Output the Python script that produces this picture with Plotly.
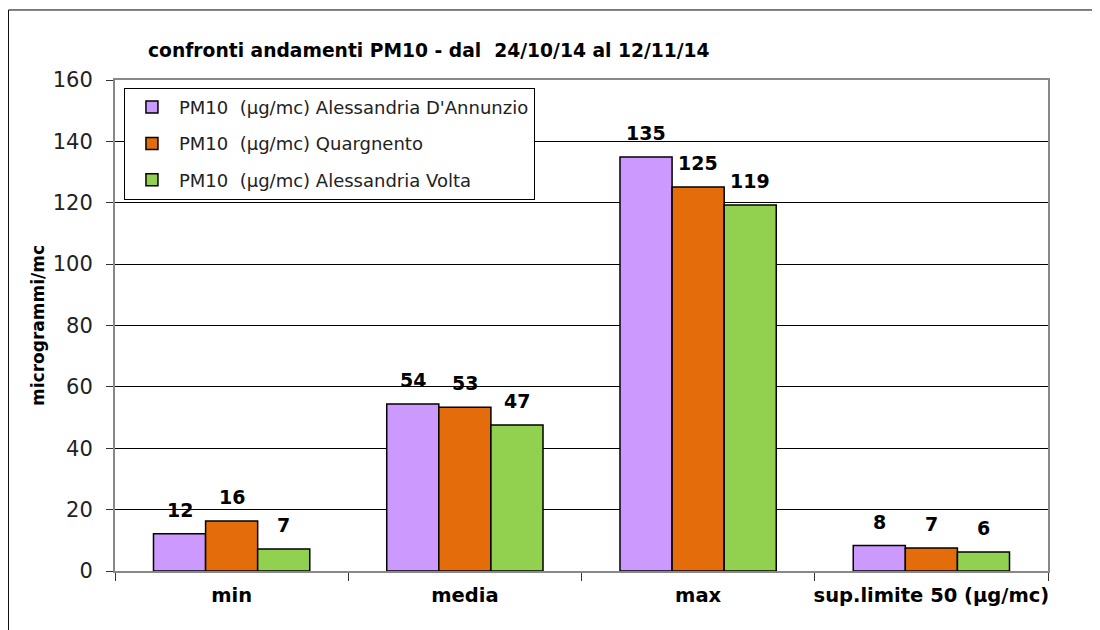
import plotly.graph_objects as go

categories = ["min", "media", "max", "sup.limite 50 (µg/mc)"]

dannunzio = [12.1, 54.4, 134.9, 8.3]
quargnento = [16.3, 53.4, 125.1, 7.5]
volta = [7.2, 47.6, 119.3, 6.2]

dannunzio_labels = ["12", "54", "135", "8"]
quargnento_labels = ["16", "53", "125", "7"]
volta_labels = ["7", "47", "119", "6"]

series_names = [
    "PM10  (µg/mc) Alessandria D'Annunzio",
    "PM10  (µg/mc) Quargnento",
    "PM10  (µg/mc) Alessandria Volta",
]
colors = ["#CC99FF", "#E46C0A", "#92D050"]

FONT = "DejaVu Sans, Arial, sans-serif"

fig = go.Figure()
all_vals = [dannunzio, quargnento, volta]
all_labels = [dannunzio_labels, quargnento_labels, volta_labels]
for i, vals in enumerate(all_vals):
    fig.add_trace(go.Bar(
        x=categories, y=vals, name=series_names[i],
        marker=dict(color=colors[i], line=dict(color="black", width=1.5)),
        legendgroup=f"g{i}",
    ))

# value labels above each bar (bar width ~52px in a group of three)
for i, (vals, labels) in enumerate(zip(all_vals, all_labels)):
    for cat, v, lab in zip(categories, vals, labels):
        fig.add_annotation(
            x=cat, y=v, text=f"<b>{lab}</b>", showarrow=False,
            xshift=(i - 1) * 52, yshift=11, yanchor="bottom",
            font=dict(family=FONT, size=19, color="black"),
        )

fig.update_layout(
    width=1100, height=630,
    margin=dict(l=107, r=60, t=72, b=67),
    paper_bgcolor="white", plot_bgcolor="white",
    barmode="group", bargap=0.33, bargroupgap=0,
    font=dict(family=FONT, color="black"),
    title=dict(
        text="<b>confronti andamenti PM10 - dal  24/10/14 al 12/11/14</b>",
        x=140 / 1100, xanchor="left", y=1 - 42 / 630, yanchor="middle",
        font=dict(family=FONT, size=18.7, color="black"),
    ),
    legend=dict(
        x=0.0096, y=0.984, xanchor="left", yanchor="top",
        bordercolor="black", borderwidth=1, bgcolor="white",
        font=dict(family=FONT, size=18, color="#222"),
        tracegroupgap=10, itemwidth=44,
    ),
    showlegend=True,
)

fig.update_yaxes(
    range=[0, 160], dtick=20, automargin=False,
    showgrid=True, gridcolor="black", gridwidth=1,
    showline=True, linecolor="#888", linewidth=2, mirror=True,
    ticks="outside", ticklen=7, tickcolor="#333", ticklabelstandoff=9,
    tickfont=dict(family=FONT, size=21, color="#222"),
    title=dict(text="<b>microgrammi/mc</b>", font=dict(family=FONT, size=17, color="black"), standoff=4),
    zeroline=False,
)
fig.update_xaxes(
    automargin=False, tickangle=0,
    showline=True, linecolor="#888", linewidth=2, mirror=True,
    ticks="outside", ticklen=8, tickcolor="#333", tickson="boundaries",
    ticklabelstandoff=6,
    tickfont=dict(family=FONT, size=19.5, color="black", weight="bold"),
)

# outer chart-area frame
fig.add_shape(type="rect", xref="paper", yref="paper",
              x0=-0.1142, x1=1.2, y0=-0.2, y1=1.1426,
              line=dict(color="black", width=1), layer="below")

fig.write_html("out.html")
